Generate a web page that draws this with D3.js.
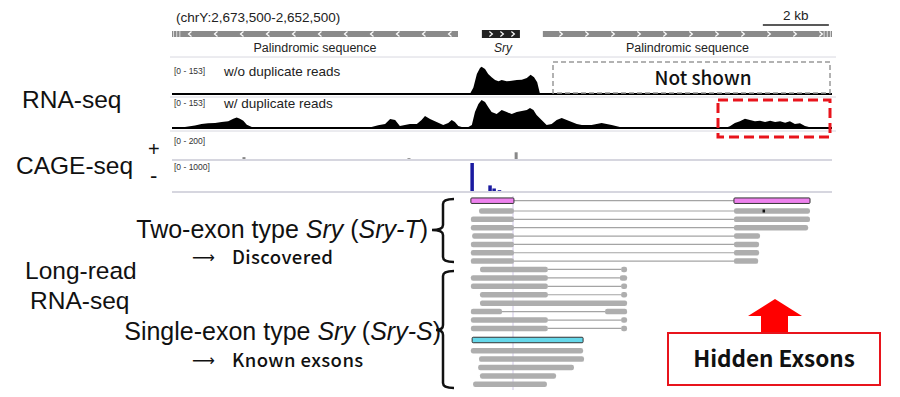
<!DOCTYPE html>
<html>
<head>
  <meta charset="utf-8">
  <title>Sry locus</title>
</head>
<style>
  body, html { margin: 0; padding: 0; background: #fff; }
  #svg { display: block; }
  .sans { font-family: "Liberation Sans", Arial, Helvetica, sans-serif; }
  .jp { font-family: "Noto Sans CJK JP", "Noto Sans", sans-serif; }
  .arrow { font-family: "DejaVu Sans", sans-serif; }
</style>
<body>

<svg id="svg" width="900" height="397"></svg>

<script src="https://d3js.org/d3.v7.min.js"></script>
<script>

  // window: chrY:2,673,500-2,652,500, positions in kb from the left edge
  const windowKb = [0, 21]

  // annotation track
  const featNames = ['Palindromic sequence', 'Sry', 'Palindromic sequence']
  const featStart = [0, 9.86, 11.8]
  const featEnd = [9.1, 11.07, 21]
  const featStrand = ['-', '+', '+']

  // RNA-seq coverage, w/o duplicate reads [0 - 153]
  const covNoDupKb = [0, 9.48, 9.59, 9.70, 9.80, 9.85, 9.96, 10.06, 10.17, 10.28, 10.39, 10.49, 10.65, 10.81, 10.97, 11.13, 11.29, 11.41, 11.52, 11.62, 11.71, 21]
  const covNoDup = [0, 0, 36, 109, 142, 149, 137, 109, 91, 76, 69, 76, 69, 73, 76, 78, 87, 105, 91, 64, 0, 0]

  // RNA-seq coverage, w/ duplicate reads [0 - 153]
  const covDupKb = [0, 0.41, 0.73, 0.94, 1.15, 1.37, 1.58, 1.79, 1.95, 2.06, 2.16, 2.27, 2.38, 2.54, 2.75,
    6.14, 6.35, 6.56, 6.78, 6.94, 7.10, 7.25, 7.41, 7.57, 7.79, 7.94, 8.05, 8.21, 8.42, 8.63, 8.79, 8.90, 9.00, 9.11, 9.22,
    9.43, 9.54, 9.64, 9.75, 9.85, 9.96, 10.06, 10.17, 10.33, 10.49, 10.65, 10.81, 10.97, 11.13, 11.29, 11.39, 11.50, 11.60,
    11.76, 11.92, 12.08, 12.24, 12.40, 12.56, 12.72, 12.88, 13.04, 13.20, 13.35, 13.51, 13.67, 13.83, 13.99, 14.25, 14.57,
    14.68, 14.89, 17.60, 17.75, 17.91, 18.07, 18.23, 18.39, 18.55, 18.71, 18.87, 19.03, 19.19, 19.35, 19.51, 19.66, 19.82,
    19.98, 20.14, 20.30, 20.46, 21]
  const covDup = [0, 5, 13, 22, 26, 27, 33, 37, 51, 58, 51, 40, 18, 5, 0,
    0, 5, 15, 22, 49, 44, 11, 16, 22, 22, 44, 66, 49, 33, 16, 27, 44, 33, 11, 5,
    5, 16, 87, 131, 153, 142, 115, 87, 76, 98, 87, 76, 87, 93, 98, 109, 98, 71,
    44, 16, 22, 44, 55, 44, 33, 22, 16, 16, 16, 22, 27, 22, 16, 5, 5,
    3, 0, 0, 9, 27, 37, 51, 44, 37, 40, 33, 40, 33, 37, 29, 37, 22,
    26, 11, 4, 0, 0]

  // CAGE-seq peaks
  const cagePlusKb = [2.29, 7.54, 10.95]
  const cagePlus = [18, 8, 64]
  const cageMinusKb = [9.55, 10.12, 10.25, 10.42]
  const cageMinus = [1000, 200, 90, 30]

  // long reads: exon blocks in kb
  const sryTModel = [[9.51, 10.88], [17.88, 20.30]]
  const readsT = [
    [[9.77, 10.88], [17.88, 20.30]],
    [[9.51, 10.88], [17.88, 20.30]],
    [[9.51, 10.88], [17.88, 20.24]],
    [[9.55, 10.88], [17.88, 18.71]],
    [[9.51, 10.88], [17.88, 18.68]],
    [[9.51, 10.88], [17.88, 18.68]],
    [[9.51, 10.88], [17.88, 18.65]]
  ]
  const readsS1 = [
    [[9.80, 11.96], [14.29, 14.48]],
    [[9.51, 11.96], [14.25, 14.48]],
    [[9.51, 11.96], [14.29, 14.48]],
    [[9.80, 11.96], [14.29, 14.48]],
    [[9.80, 14.48]],
    [[9.51, 10.50], [13.78, 14.48]],
    [[9.51, 11.96], [14.29, 14.48]],
    [[9.51, 11.96], [14.29, 14.48]]
  ]
  const srySModel = [[9.55, 13.08]]
  const readsS2 = [
    [[9.51, 13.08]],
    [[9.77, 13.11]],
    [[9.74, 12.79]],
    [[9.80, 12.22]],
    [[9.58, 11.93]]
  ]

  const svg = d3.select('#svg')

  const x = d3.scaleLinear().domain(windowKb).range([172, 832])

  // ---------- header ----------
  svg.append('text').attr('class', 'sans').attr('x', 176).attr('y', 22)
    .attr('font-size', 13.5).attr('fill', '#222').text('(chrY:2,673,500-2,652,500)')
  svg.append('line').attr('x1', x(18.8)).attr('x2', x(20.9)).attr('y1', 25).attr('y2', 25)
    .attr('stroke', '#222').attr('stroke-width', 1.5)
  svg.append('text').attr('class', 'sans').attr('x', x(19.85)).attr('y', 20)
    .attr('text-anchor', 'middle').attr('font-size', 13.5).attr('fill', '#222').text('2 kb')

  // ---------- annotation features ----------
  featNames.forEach((name, i) => {
    const x0 = x(featStart[i]), x1 = x(featEnd[i])
    const isGene = name === 'Sry'
    svg.append('rect').attr('x', x0).attr('y', isGene ? 30 : 31)
      .attr('width', x1 - x0).attr('height', isGene ? 8 : 6)
      .attr('fill', isGene ? '#222' : '#8a8a8a')
    const step = isGene ? 11 : 26
    const dir = featStrand[i] === '+' ? 1 : -1
    for (let cx = x0 + (isGene ? 9 : 18); cx < x1 - 6; cx += step) {
      svg.append('path')
        .attr('d', `M${cx - 1.5 * dir},31.5 L${cx + 1.5 * dir},34 L${cx - 1.5 * dir},36.5`)
        .attr('fill', 'none').attr('stroke', '#fff').attr('stroke-width', 1.2)
    }
    svg.append('text').attr('class', 'sans').attr('x', (x0 + x1) / 2 + (isGene ? 2 : 0)).attr('y', 52)
      .attr('text-anchor', 'middle').attr('font-size', isGene ? 12 : 12.5)
      .attr('font-style', isGene ? 'italic' : 'normal').attr('fill', '#222').text(name)
  })
  // end ticks of the palindromic bars
  ;[0.05, 0.15, 0.25, 20.75, 20.85, 20.95].forEach(k => {
    svg.append('line').attr('x1', x(k)).attr('x2', x(k)).attr('y1', 31).attr('y2', 37)
      .attr('stroke', '#ddd').attr('stroke-width', 1)
  })
  svg.append('line').attr('x1', 170).attr('x2', 836).attr('y1', 57).attr('y2', 57)
    .attr('stroke', '#d8d8e0').attr('stroke-width', 1)

  // ---------- coverage tracks ----------
  function coverage(kb, vals, base, top, max) {
    const y = d3.scaleLinear().domain([0, max]).range([base, top])
    const area = d3.area().x((d, i) => x(kb[i])).y0(base).y1(d => y(d))
    svg.append('path').attr('d', area(vals)).attr('fill', '#000')
    svg.append('line').attr('x1', 172).attr('x2', 832).attr('y1', base).attr('y2', base)
      .attr('stroke', '#000').attr('stroke-width', 2)
    svg.append('line').attr('x1', 170).attr('x2', 836).attr('y1', base + 3).attr('y2', base + 3)
      .attr('stroke', '#d8d8e0').attr('stroke-width', 1)
  }
  coverage(covNoDupKb, covNoDup, 94, 66, 153)
  coverage(covDupKb, covDup, 128, 100, 153)

  function trackLabel(range, name, yy) {
    svg.append('text').attr('class', 'sans').attr('x', 174).attr('y', yy - 2)
      .attr('font-size', 8.5).attr('fill', '#333').text(range)
    if (name) svg.append('text').attr('class', 'sans').attr('x', 224).attr('y', yy)
      .attr('font-size', 13.5).attr('fill', '#222').text(name)
  }
  trackLabel('[0 - 153]', 'w/o duplicate reads', 76)
  trackLabel('[0 - 153]', 'w/ duplicate reads', 108)

  // not shown box
  svg.append('rect').attr('x', 553).attr('y', 62).attr('width', 277).attr('height', 31)
    .attr('fill', 'none').attr('stroke', '#999').attr('stroke-width', 1.5).attr('stroke-dasharray', '5,3')
  svg.append('text').attr('class', 'jp').attr('x', 703).attr('y', 85).attr('text-anchor', 'middle')
    .attr('font-size', 19).attr('font-weight', 500).attr('fill', '#111').text('Not shown')

  // red dashed box
  svg.append('rect').attr('x', 718).attr('y', 100).attr('width', 112).attr('height', 37)
    .attr('fill', 'none').attr('stroke', '#e8141c').attr('stroke-width', 3).attr('stroke-dasharray', '10,5')

  // ---------- CAGE-seq ----------
  function cage(kb, vals, base, top, max, color, w) {
    const y = d3.scaleLinear().domain([0, max]).range([base, top])
    svg.append('g').selectAll('rect').data(vals).join('rect')
      .attr('x', (d, i) => x(kb[i]) - w / 2).attr('width', w)
      .attr('y', d => y(d)).attr('height', d => base - y(d)).attr('fill', color)
    svg.append('line').attr('x1', 172).attr('x2', 832).attr('y1', base + 1).attr('y2', base + 1)
      .attr('stroke', '#c8c8d4').attr('stroke-width', 1.5)
  }
  cage(cagePlusKb, cagePlus, 159, 138, 200, '#888', 3)
  cage(cageMinusKb, cageMinus, 191, 163, 1000, '#1a1aa0', 3.5)
  trackLabel('[0 - 200]', null, 146)
  trackLabel('[0 - 1000]', null, 172)

  // ---------- long reads ----------
  const readH = 5.5
  let rowY = 200.7
  const rows = []
  rows.push({ blocks: sryTModel, fill: '#ee82ee', stroke: '#333', y: rowY })
  rowY += 10.3
  readsT.forEach(r => { rows.push({ blocks: r, fill: '#aaa', y: rowY }); rowY += 8.35 })
  readsS1.forEach(r => { rows.push({ blocks: r, fill: '#aaa', y: rowY }); rowY += 8.43 })
  rowY += 3.1
  rows.push({ blocks: srySModel, fill: '#66d8ea', stroke: '#333', y: rowY })
  rowY += 10.7
  readsS2.forEach(r => { rows.push({ blocks: r, fill: '#aaa', y: rowY }); rowY += 8.4 })

  // centre guide line
  svg.append('line').attr('x1', x(10.85)).attr('x2', x(10.85)).attr('y1', 196).attr('y2', 390)
    .attr('stroke', '#cfc6e6').attr('stroke-width', 1)

  rows.forEach(r => {
    const g = svg.append('g')
    for (let i = 0; i < r.blocks.length - 1; i++) {
      g.append('line').attr('x1', x(r.blocks[i][1])).attr('x2', x(r.blocks[i + 1][0]))
        .attr('y1', r.y).attr('y2', r.y).attr('stroke', '#a4a4a4').attr('stroke-width', 1.2)
    }
    r.blocks.forEach(b => {
      g.append('rect').attr('x', x(b[0])).attr('y', r.y - readH / 2)
        .attr('width', x(b[1]) - x(b[0])).attr('height', readH)
        .attr('rx', r.stroke ? 1 : 2.2)
        .attr('fill', r.fill).attr('fill-opacity', r.stroke ? 1 : 0.95)
        .attr('stroke', r.stroke || 'none').attr('stroke-width', 1)
    })
  })
  // a mismatch base in the first Sry-T read
  svg.append('rect').attr('x', x(18.79)).attr('y', rows[1].y - 1.5).attr('width', 2.5).attr('height', 3).attr('fill', '#111')

  // ---------- braces ----------
  function brace(y0, y1, ym, xl, xm, xr) {
    const r = 5
    const d = `M${xr},${y0} Q${xm},${y0} ${xm},${y0 + r} L${xm},${ym - r} Q${xm},${ym} ${xl},${ym}` +
      ` Q${xm},${ym} ${xm},${ym + r} L${xm},${y1 - r} Q${xm},${y1} ${xr},${y1}`
    svg.append('path').attr('d', d).attr('fill', 'none').attr('stroke', '#111').attr('stroke-width', 2.5)
  }
  brace(199, 262, 230, 432, 443, 454)
  brace(271, 388, 330, 436, 443, 454)

  // ---------- left labels ----------
  const big = (t, xx, yy) => svg.append('text').attr('class', 'sans').attr('x', xx).attr('y', yy)
    .attr('font-size', 24.5).attr('fill', '#111').text(t)
  big('RNA-seq', 22, 108)
  big('CAGE-seq', 16, 174)
  big('Long-read', 25, 279)
  big('RNA-seq', 30, 309)
  svg.append('text').attr('class', 'sans').attr('x', 148).attr('y', 156).attr('font-size', 20).attr('fill', '#111').text('+')
  svg.append('text').attr('class', 'sans').attr('x', 150).attr('y', 183).attr('font-size', 22).attr('fill', '#111').text('-')

  function typeLabel(yy, xEnd, parts) {
    const t = svg.append('text').attr('class', 'sans').attr('x', xEnd).attr('y', yy)
      .attr('text-anchor', 'end').attr('font-size', 25).attr('fill', '#111')
    parts.forEach(p => t.append('tspan').attr('font-style', p[1] ? 'italic' : 'normal').text(p[0]))
  }
  typeLabel(238, 428, [['Two-exon type ', 0], ['Sry', 1], [' (', 0], ['Sry-T', 1], [')', 0]])
  typeLabel(340, 441, [['Single-exon type ', 0], ['Sry', 1], [' (', 0], ['Sry-S', 1], [')', 0]])

  function arrowLabel(yy, t) {
    svg.append('text').attr('class', 'arrow').attr('x', 192).attr('y', yy - 1)
      .attr('font-size', 16).attr('fill', '#111').text('\u27F6')
    svg.append('text').attr('class', 'jp').attr('x', 232).attr('y', yy)
      .attr('font-size', 18.5).attr('font-weight', 500).attr('letter-spacing', 0.4)
      .attr('fill', '#111').text(t)
  }
  arrowLabel(264, 'Discovered')
  arrowLabel(367, 'Known exsons')

  // ---------- hidden exons call-out ----------
  svg.append('path')
    .attr('d', 'M775,299 L802,316 L788,316 L788,333 L761,333 L761,316 L748,316 Z')
    .attr('fill', '#ff0000')
  svg.append('rect').attr('x', 668).attr('y', 333).attr('width', 212).attr('height', 52)
    .attr('fill', '#fff').attr('stroke', '#e8141c').attr('stroke-width', 2)
  svg.append('text').attr('class', 'jp').attr('x', 774).attr('y', 367).attr('text-anchor', 'middle')
    .attr('font-size', 22.5).attr('font-weight', 600).attr('fill', '#111').text('Hidden Exsons')

</script>

</body>
</html>
